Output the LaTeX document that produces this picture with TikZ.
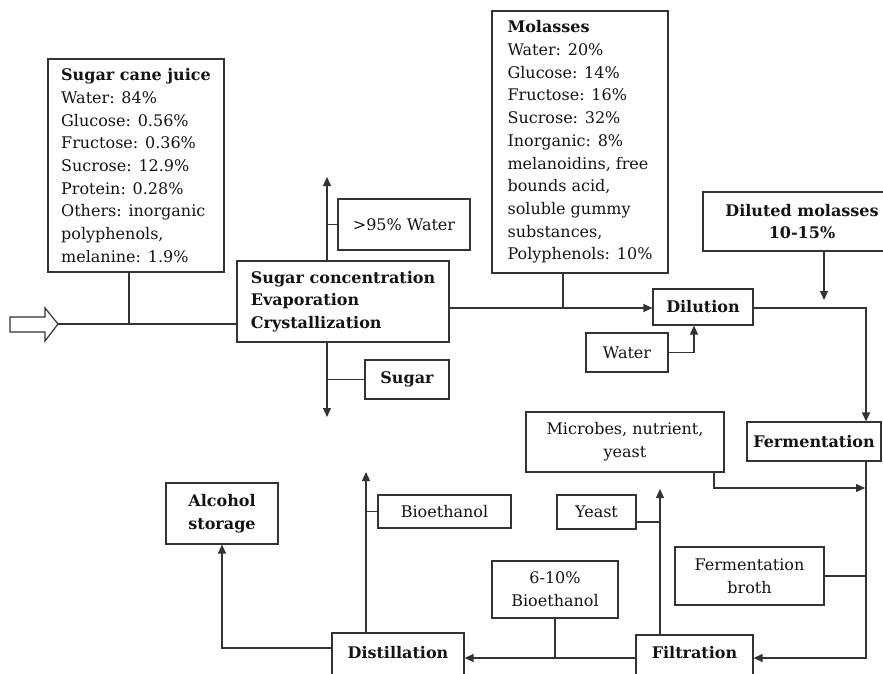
\documentclass[tikz,border=0pt]{standalone}
\usepackage{fontspec}
\setmainfont{DejaVu Serif}
\usetikzlibrary{arrows.meta,positioning,calc}
\definecolor{CaneInk}{HTML}{141414}
\definecolor{CaneLine}{HTML}{333333}
\newcommand{\flowfont}{\fontsize{16}{22.7}\selectfont}

\begin{document}
\begin{tikzpicture}[x=1pt, y=-1pt,
    flow/.style={-{Triangle[length=9pt,width=8pt]}, line width=1.2pt, draw=CaneLine},
    link/.style={line width=1.2pt, draw=CaneLine},
    info/.style={draw=CaneLine, line width=1.2pt, inner sep=0pt, align=center,
      font=\flowfont, text=CaneInk},
    proc/.style={info, font=\flowfont\bfseries},
    flat/.style={text height=0pt, text depth=0pt}
  ]
    \fill[white] (0,0) rectangle (883,674);
    \useasboundingbox (0,0) rectangle (883,674);
    \clip (0,0) rectangle (883,674);

    % cane side
    \draw[link, fill=white] (10,317) -- (45,317) -- (45,308) -- (58,324) -- (45,341)
      -- (45,332) -- (10,332) -- cycle;
    \coordinate (feed) at (58,324);
    \node[info, align=left, minimum width=176pt, minimum height=213pt] (juice) at (136,165.5)
      {\textbf{Sugar cane juice}\\Water: 84\%\\Glucose: 0.56\%\\Fructose: 0.36\%\\Sucrose: 12.9\%\\Protein: 0.28\%\\Others: inorganic\\polyphenols,\\melanine: 1.9\%};
    \node[proc, align=left, minimum width=212pt, minimum height=81pt] (sugconc) at (343,301.5)
      {Sugar concentration\\Evaporation\\Crystallization};
    \node[info, minimum width=132pt, minimum height=51pt] (water95) at (404,224.5) {>95\% Water};
    \node[proc, minimum width=84pt, minimum height=39pt] (sugar) at (407,379.5) {Sugar};

    % molasses and dilution
    \node[info, align=left, minimum width=176pt, minimum height=262pt] (molasses) at (580,142)
      {\textbf{Molasses}\\Water: 20\%\\Glucose: 14\%\\Fructose: 16\%\\Sucrose: 32\%\\Inorganic: 8\%\\melanoidins, free\\bounds acid,\\soluble gummy\\substances,\\Polyphenols: 10\%};
    \node[proc, minimum width=100pt, minimum height=36pt] (dilution) at (703,307) {Dilution};
    \node[info, minimum width=82pt, minimum height=39pt] (water) at (627,352.5) {Water};
    \node[proc, minimum width=198pt, minimum height=59pt] (diluted) at (802,221.5) {Diluted molasses\\10-15\%};

    % fermentation, filtration, distillation
    \node[proc, minimum width=134pt, minimum height=39pt] (ferment) at (814,441.5) {Fermentation};
    \node[info, minimum width=198pt, minimum height=60pt] (microbes) at (625,442) {Microbes, nutrient,\\yeast};
    \node[info, minimum width=149pt, minimum height=58pt] (broth) at (749.5,576) {Fermentation\\broth};
    \node[proc, flat, minimum width=117pt, minimum height=46pt] (filtration) at (694.5,658) {Filtration};
    \node[info, minimum width=79pt, minimum height=34pt] (yeast) at (596.5,512) {Yeast};
    \node[info, minimum width=126pt, minimum height=57pt] (bio610) at (555,589.5) {6-10\%\\Bioethanol};
    \node[proc, flat, minimum width=132pt, minimum height=50pt] (distillation) at (398,658) {Distillation};
    \node[info, minimum width=133pt, minimum height=33pt] (bioethanol) at (444.5,511.5) {Bioethanol};
    \node[proc, minimum width=112pt, minimum height=61pt] (alcohol) at (222,513.5) {Alcohol\\storage};

    % free ends and turning points
    \coordinate (waterout) at (327,177);
    \coordinate (sugarout) at (327,417);
    \coordinate (mtap) at (563,308);
    \coordinate (dmout) at (824,300);
    \coordinate (rail) at (866,658);
    \coordinate (mtip) at (865,488);
    \coordinate (yeastout) at (660,489);
    \coordinate (bioout) at (366,472);

    \draw[link] (feed) -- (feed -| sugconc.west);
    \draw[link] ([xshift=-7pt]juice.south) -- ([xshift=-7pt]juice.south |- feed);
    \draw[flow] (sugconc.north -| waterout) -- (waterout);
    \draw[flow] (sugconc.south -| sugarout) -- (sugarout);
    \draw[link] (water95.west) -- (water95.west -| waterout);
    \draw[link] (sugar.west) -- (sugar.west -| sugarout);

    \draw[flow] (mtap -| sugconc.east) -- (mtap -| dilution.west);
    \draw[link] (mtap |- molasses.south) -- (mtap);
    \draw[flow] (water.east) -| ([xshift=-9pt]dilution.south);
    \draw[flow] (dmout |- diluted.south) -- (dmout);
    \draw[flow] (mtap -| dilution.east) -| (ferment.north -| rail);

    \draw[flow] (ferment.south -| rail) |- (filtration.east);
    \draw[flow] ([xshift=89pt]microbes.south) |- (mtip);
    \draw[link] (broth.east) -- (broth.east -| rail);
    \draw[flow] (filtration.west) -- (distillation.east);
    \draw[link] (bio610.south) -- (bio610.south |- filtration.west);
    \draw[flow] (yeastout |- filtration.north) -- (yeastout);
    \draw[link] ([yshift=-10pt]yeast.east) -- ([yshift=-10pt]yeast.east -| yeastout);
    \draw[flow] (bioout |- distillation.north) -- (bioout);
    \draw[link] (bioethanol.west) -- (bioethanol.west -| bioout);
    \draw[flow] ([yshift=10pt]distillation.west) -| (alcohol.south);
  \end{tikzpicture}
\end{document}
